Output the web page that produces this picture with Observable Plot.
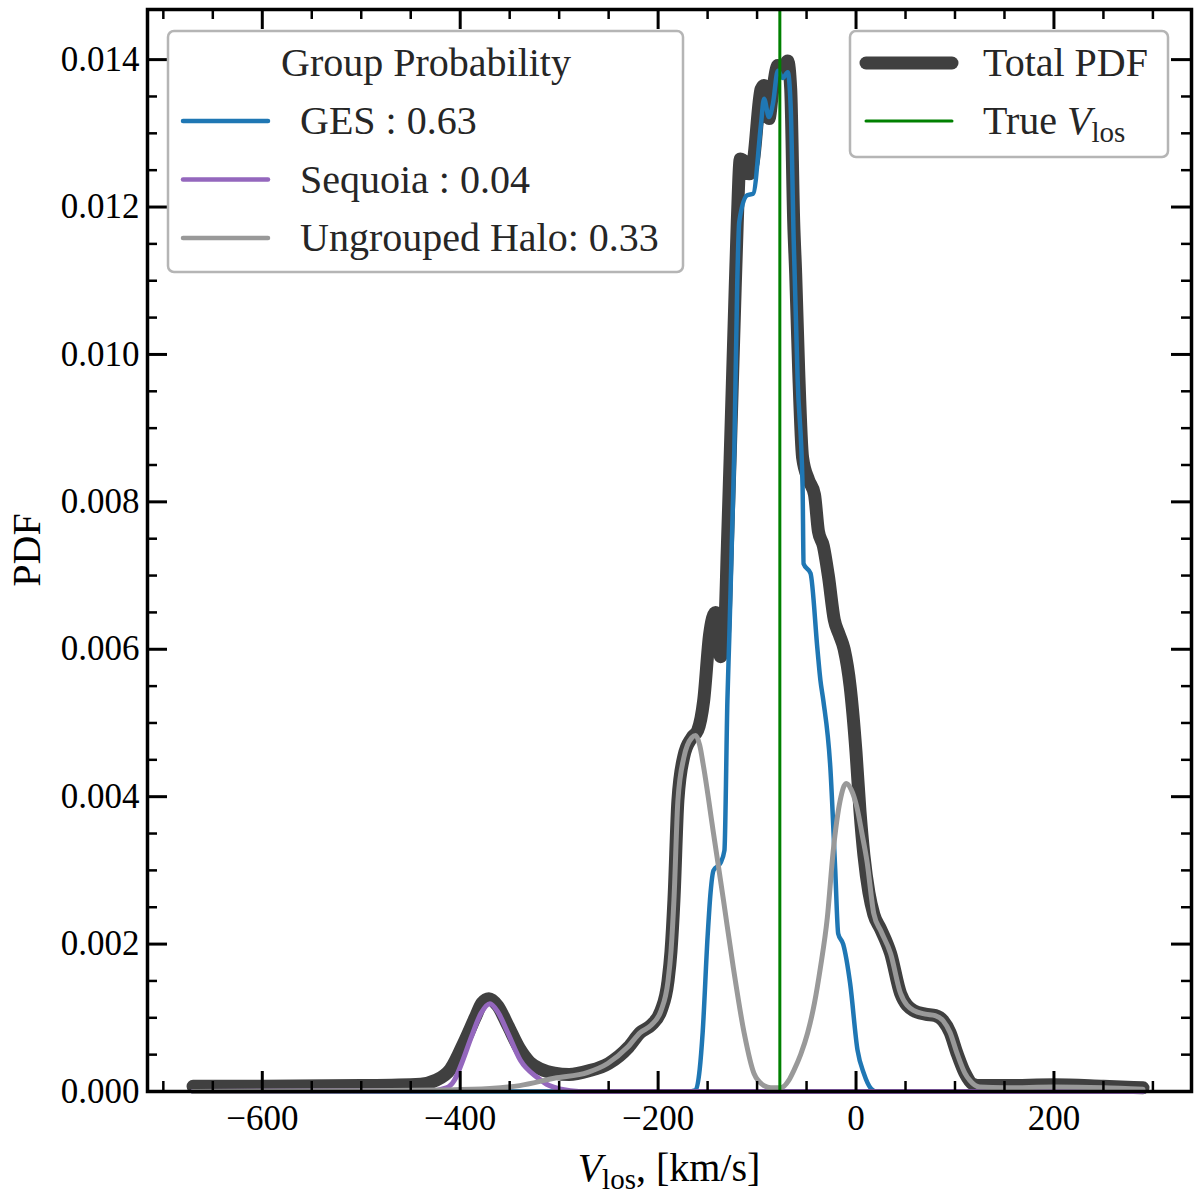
<!DOCTYPE html>
<html>
<head>
<meta charset="utf-8">
<script src="https://cdn.jsdelivr.net/npm/d3@7"></script>
<script src="https://cdn.jsdelivr.net/npm/@observablehq/plot@0.6"></script>
<style>
  body { margin: 0; background: white; }
  svg { display: block; }
</style>
</head>
<body>
<script>
// velocity grid points (km/s) and pdf values, one pair of arrays per curve
const totalV = [-670, -600, -500, -440, -425, -410, -395, -385, -378, -371, -362, -352, -340, -330, -318, -305, -290, -270, -250, -230, -218, -207, -197, -190, -187, -184, -180, -174, -166, -160, -154, -148, -142, -137, -133, -130, -127, -123, -120, -117, -112, -108, -104, -96, -93, -88, -84, -79, -75, -69, -66, -63, -61, -58, -54, -48, -42, -38, -33, -28, -22, -17, -12, -6, 0, 4, 8, 13, 18, 25, 35, 45, 58, 70, 80, 88, 95, 102, 110, 118, 125, 150, 200, 250, 290];
const totalPdf = [0.00007, 0.00007, 0.00008, 0.0001, 0.00015, 0.0003, 0.0007, 0.001, 0.0012, 0.00126, 0.00116, 0.0009, 0.00058, 0.0004, 0.0003, 0.00025, 0.00023, 0.00028, 0.00038, 0.0006, 0.0008, 0.0009, 0.0011, 0.0015, 0.0019, 0.0026, 0.00395, 0.00455, 0.0048, 0.0049, 0.0053, 0.0062, 0.0065, 0.0059, 0.0062, 0.0074, 0.0087, 0.0105, 0.0118, 0.01265, 0.0126, 0.01245, 0.0126, 0.0136, 0.01365, 0.0132, 0.0136, 0.01392, 0.01385, 0.01398, 0.0136, 0.0118, 0.0111, 0.0098, 0.0086, 0.0083, 0.0081, 0.0076, 0.0074, 0.007, 0.0064, 0.0062, 0.006, 0.0055, 0.0046, 0.0038, 0.0032, 0.0027, 0.0024, 0.0022, 0.00187, 0.00133, 0.0011, 0.00105, 0.00103, 0.00096, 0.0008, 0.00052, 0.00025, 0.0001, 0.00008, 0.00008, 0.00009, 0.00007, 0.00005];

const gesV = [-670, -170, -162, -158, -155, -150, -147, -144, -137, -133, -130, -128, -125, -123, -120, -118, -110, -104, -96, -93, -88, -84, -79, -74, -69, -66, -63, -59, -54, -53, -46, -39, -36, -33, -26, -21, -18, -13, -6, 1.5, 8, 15, 20, 290];
const gesPdf = [0, 0, 0.00002, 0.0003, 0.0008, 0.0021, 0.0027, 0.003, 0.0031, 0.00327, 0.0053, 0.0062, 0.0077, 0.0087, 0.011, 0.0118, 0.01216, 0.01218, 0.01313, 0.01347, 0.01322, 0.0134, 0.01385, 0.01375, 0.01383, 0.01335, 0.01155, 0.00965, 0.0082, 0.00716, 0.00703, 0.006, 0.00558, 0.0053, 0.0044, 0.003, 0.00214, 0.002, 0.00147, 0.00056, 0.00024, 0.00004, 0, 0];

const sequoiaV = [-670, -430, -414, -406, -398, -389, -379, -370, -362, -352, -339, -322, -310, -298, -280, 290];
const sequoiaPdf = [0, 0.00001, 0.00005, 0.00015, 0.0004, 0.00073, 0.00106, 0.00119, 0.00108, 0.0008, 0.00042, 0.00019, 0.00008, 0.00003, 0, 0];

const haloV = [-670, -500, -420, -370, -340, -305, -271, -251, -231, -218, -207, -197, -190, -187, -184, -180, -174, -166, -162, -158, -154, -144, -134, -124, -113, -103, -93, -86, -76, -68, -63, -56, -49, -42, -36, -29, -23, -16, -10, -5, 1, 6, 11, 18, 25, 35, 45, 58, 70, 80, 88, 95, 102, 110, 115, 125, 150, 200, 250, 290];
const haloPdf = [0, 0.00001, 0.00002, 0.00004, 0.00008, 0.00018, 0.00026, 0.00038, 0.0006, 0.0008, 0.0009, 0.0011, 0.0015, 0.0019, 0.0026, 0.00395, 0.00453, 0.0048, 0.00483, 0.0047, 0.0044, 0.0035, 0.0026, 0.00168, 0.00079, 0.00024, 0.00008, 0.00005, 0.00005, 0.00015, 0.00028, 0.0005, 0.00079, 0.0012, 0.00168, 0.00236, 0.00327, 0.00395, 0.00418, 0.0041, 0.00385, 0.0035, 0.00313, 0.00241, 0.00218, 0.00187, 0.00133, 0.0011, 0.00105, 0.00103, 0.00096, 0.0008, 0.00052, 0.00025, 0.00015, 0.00006, 0.00005, 0.00006, 0.00005, 0.00003];

const trueVlos = -77;

const groupLabels = ["GES : 0.63", "Sequoia : 0.04", "Ungrouped Halo: 0.33"];
const groupColors = ["#1f77b4", "#9467bd", "#999999"];
const totalColor = "#404040";
const trueColor = "#008000";

const xMajor = [-600, -400, -200, 0, 200];
const xMinor = d3.range(-700, 301, 50).filter(d => d % 200 !== 0);
const yMajor = [0, 0.002, 0.004, 0.006, 0.008, 0.010, 0.012, 0.014];
const yMinor = d3.range(0, 29).map(i => i * 0.0005).filter((d, i) => i % 4 !== 0);

const rows = (xs, ys) => xs.map((v, i) => ({ v, pdf: ys[i] }));

const W = 1200, H = 1200;
const mL = 147, mR = 9, mT = 9, mB = 109;
const fw = W - mL - mR, fh = H - mT - mB;
const font = "Liberation Serif, Times New Roman, serif";
const fmtX = d => (d < 0 ? "\u2212" + Math.abs(d) : String(d));

const chart = Plot.plot({
  width: W,
  height: H,
  marginLeft: mL,
  marginRight: mR,
  marginTop: mT,
  marginBottom: mB,
  style: { fontFamily: font, fontSize: "35px", background: "white", color: "black" },
  x: { domain: [-716, 339] },
  y: { domain: [0, 0.01468] },
  marks: [
    Plot.line(rows(totalV, totalPdf), { x: "v", y: "pdf", stroke: totalColor, strokeWidth: 13, curve: "monotone-x" }),
    Plot.line(rows(gesV, gesPdf), { x: "v", y: "pdf", stroke: groupColors[0], strokeWidth: 4.5, curve: "monotone-x" }),
    Plot.line(rows(sequoiaV, sequoiaPdf), { x: "v", y: "pdf", stroke: groupColors[1], strokeWidth: 5, curve: "monotone-x" }),
    Plot.line(rows(haloV, haloPdf), { x: "v", y: "pdf", stroke: groupColors[2], strokeWidth: 5, curve: "monotone-x" }),
    Plot.ruleX([trueVlos], { stroke: trueColor, strokeWidth: 3 }),
    // inward ticks on all four sides
    Plot.tickX(xMajor, { x: d => d, insetTop: fh - 20, stroke: "black", strokeWidth: 3 }),
    Plot.tickX(xMajor, { x: d => d, insetBottom: fh - 20, stroke: "black", strokeWidth: 3 }),
    Plot.tickX(xMinor, { x: d => d, insetTop: fh - 10, stroke: "black", strokeWidth: 2.5 }),
    Plot.tickX(xMinor, { x: d => d, insetBottom: fh - 10, stroke: "black", strokeWidth: 2.5 }),
    Plot.tickY(yMajor, { y: d => d, insetRight: fw - 20, stroke: "black", strokeWidth: 3 }),
    Plot.tickY(yMajor, { y: d => d, insetLeft: fw - 20, stroke: "black", strokeWidth: 3 }),
    Plot.tickY(yMinor, { y: d => d, insetRight: fw - 10, stroke: "black", strokeWidth: 2.5 }),
    Plot.tickY(yMinor, { y: d => d, insetLeft: fw - 10, stroke: "black", strokeWidth: 2.5 }),
    Plot.axisX(xMajor, { tickSize: 0, tickPadding: 14, tickFormat: fmtX, label: null, fontSize: 35 }),
    Plot.axisY(yMajor, { tickSize: 0, tickPadding: 8, tickFormat: d => d.toFixed(3), label: null, fontSize: 35 }),
    Plot.frame({ stroke: "black", strokeWidth: 3.5 })
  ]
});

document.body.append(chart);

const svg = d3.select(chart);
const fs = "40px";
const subFs = "29px";

// axis titles
const xl = svg.append("text")
  .attr("x", mL + fw / 2).attr("y", 1181)
  .attr("text-anchor", "middle")
  .style("font-family", font).style("font-size", fs);
xl.append("tspan").style("font-style", "italic").text("V");
xl.append("tspan").attr("dy", 8).style("font-size", subFs).text("los");
xl.append("tspan").attr("dy", -8).text(", [km/s]");

svg.append("text")
  .attr("transform", `translate(40,${mT + fh / 2}) rotate(-90)`)
  .attr("text-anchor", "middle")
  .style("font-family", font).style("font-size", fs)
  .text("PDF");

// legend boxes
function box(x, y, w, h) {
  svg.append("rect")
    .attr("x", x).attr("y", y).attr("width", w).attr("height", h)
    .attr("rx", 6)
    .attr("fill", "white").attr("fill-opacity", 0.8)
    .attr("stroke", "#b5b5b5").attr("stroke-width", 2.5);
}

function legendText(x, y, anchor) {
  return svg.append("text")
    .attr("x", x).attr("y", y).attr("text-anchor", anchor)
    .style("font-family", font).style("font-size", fs).attr("fill", "#262626");
}

box(168, 31, 515, 241);
legendText(426, 76, "middle").text("Group Probability");
groupLabels.forEach((label, i) => {
  const y = 121 + i * 58.5;
  svg.append("line")
    .attr("x1", 183).attr("x2", 268).attr("y1", y).attr("y2", y)
    .attr("stroke", groupColors[i]).attr("stroke-width", 4.5).attr("stroke-linecap", "round");
  legendText(300, y + 13, "start").text(label);
});

box(850, 31, 318, 126);
svg.append("line")
  .attr("x1", 866).attr("x2", 952).attr("y1", 63).attr("y2", 63)
  .attr("stroke", totalColor).attr("stroke-width", 13).attr("stroke-linecap", "round");
legendText(983, 76, "start").text("Total PDF");
svg.append("line")
  .attr("x1", 866).attr("x2", 952).attr("y1", 121).attr("y2", 121)
  .attr("stroke", trueColor).attr("stroke-width", 3).attr("stroke-linecap", "round");
const tl = legendText(983, 134, "start");
tl.append("tspan").text("True ");
tl.append("tspan").style("font-style", "italic").text("V");
tl.append("tspan").attr("dy", 8).style("font-size", subFs).text("los");
</script>
</body>
</html>
